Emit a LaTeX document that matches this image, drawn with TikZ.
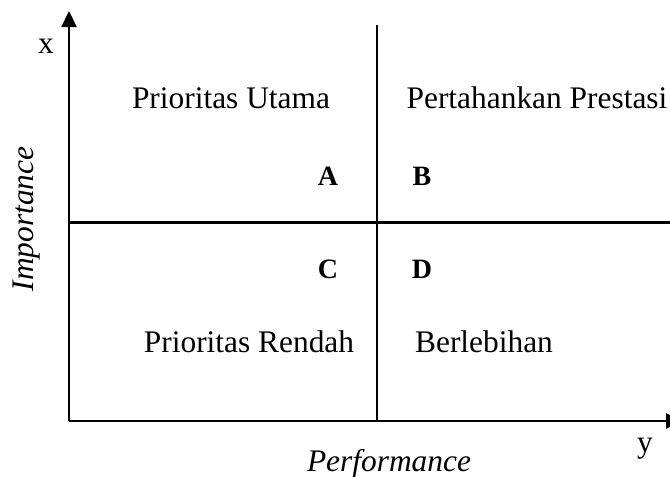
\documentclass[tikz,border=0pt]{standalone}
\usepackage{fontspec}
\setmainfont{Liberation Serif}
\usetikzlibrary{arrows.meta}
\begin{document}
\begin{tikzpicture}[x=1pt,y=-1pt,line width=2.2pt,
  quadtext/.style={anchor=base,font=\fontsize{31.4}{37}\selectfont},
  quadletter/.style={anchor=base,font=\fontsize{28}{34}\selectfont\bfseries},
  axistip/.style={-{Triangle[length=16pt,width=15pt]}}]
\useasboundingbox (0,0) rectangle (670,477);
        \coordinate (origin) at (69,421);
        \coordinate (xtip) at (69,11);
        \coordinate (ytip) at (682,421);
        \coordinate (midtop) at (377,25);
        \coordinate (midbot) at (377,421);
        \coordinate (midleft) at (69,222.5);
        \coordinate (midright) at (670,222.5);
    \draw[axistip] (origin) -- (xtip);
    \draw[axistip] (origin) -- (ytip);
    \draw (midtop) -- (midbot);
    \draw (midleft) -- (midright);
                 \node[quadtext] (xlabel) at (46,53){x};
                 \node[quadtext] (ylabel) at (645,452){y};
                 \node[quadtext,rotate=90,font=\fontsize{31.4}{37}\selectfont\itshape] (imp) at (33,219){Importance};
                 \node[quadtext,font=\fontsize{31.4}{37}\selectfont\itshape] (perf) at (389,471){Performance};
                 \node[quadtext] (utama) at (231,108){Prioritas Utama};
                 \node[quadtext] (pertahankan) at (537,108){Pertahankan Prestasi};
                 \node[quadletter] (qa) at (328,185){A};
                 \node[quadletter] (qb) at (422,185){B};
                 \node[quadletter] (qc) at (328,278){C};
                 \node[quadletter] (qd) at (422,278){D};
                 \node[quadtext] (rendah) at (249,352){Prioritas Rendah};
                 \node[quadtext] (lebih) at (484,352){Berlebihan};
\end{tikzpicture}
\end{document}
